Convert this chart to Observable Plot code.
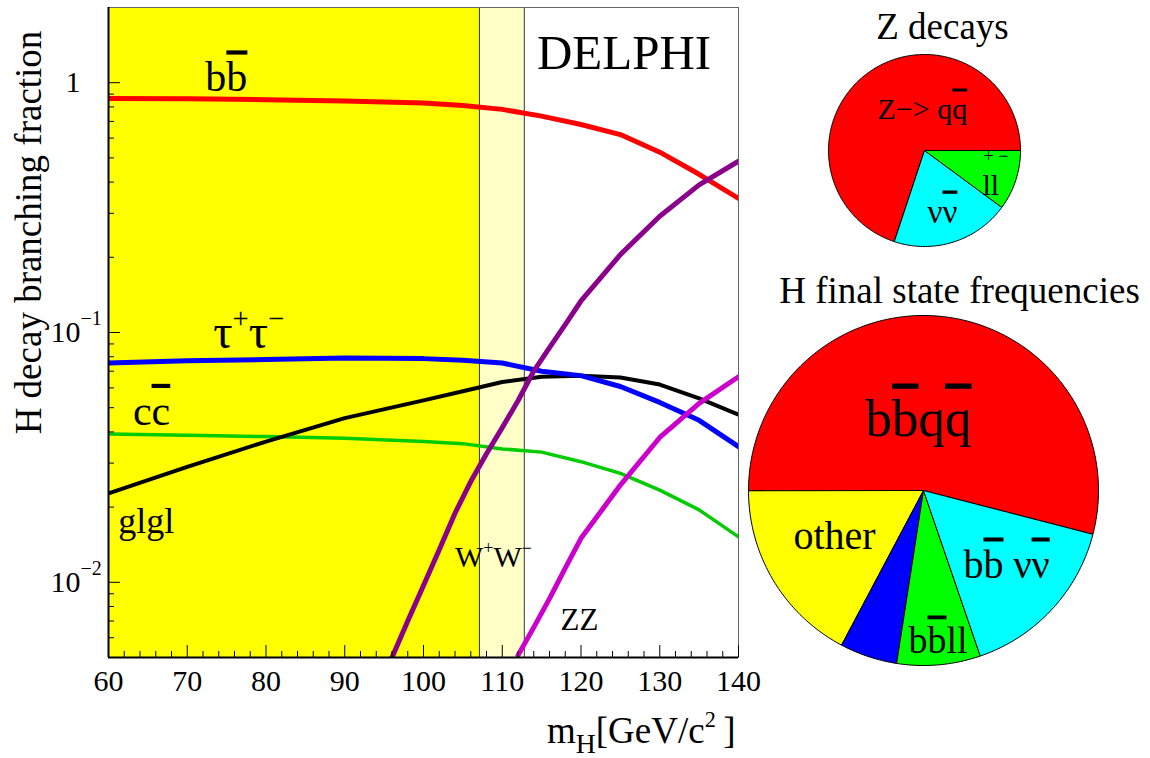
<!DOCTYPE html>
<html><head><meta charset="utf-8">
<script src="https://cdn.jsdelivr.net/npm/d3@7"></script>
<script src="https://cdn.jsdelivr.net/npm/@observablehq/plot@0.6"></script>
<style>
body{margin:0;background:#fff;overflow:hidden}
#wrap{position:relative;width:1150px;height:758px}
#pies{position:absolute;left:740px;top:0}
</style></head><body><div id="wrap"><div id="main"></div><div id="pies"></div></div>
<script>
// ---------- data: Higgs branching fractions vs m_H ----------
const massGrid = [60, 70, 80, 90, 100, 105, 110, 115, 120, 125, 130, 135, 140];
const brBB   = [0.865, 0.862, 0.855, 0.845, 0.83, 0.81, 0.782, 0.735, 0.68, 0.62, 0.527, 0.43, 0.344];
const brTauTau = [0.0755, 0.077, 0.078, 0.079, 0.0786, 0.0775, 0.0755, 0.0700, 0.0672, 0.0608, 0.0525, 0.0445, 0.0349];
const brCC   = [0.0392, 0.0388, 0.0383, 0.0377, 0.0366, 0.0359, 0.0342, 0.0332, 0.0304, 0.0273, 0.0234, 0.0195, 0.0152];
const brGG   = [0.0227, 0.029, 0.0366, 0.0454, 0.0535, 0.0582, 0.0634, 0.0665, 0.0671, 0.0661, 0.0619, 0.0545, 0.0469];
const massWW = [96, 98, 100, 102, 104, 106, 108, 110, 112, 114, 116, 118, 120, 125, 130, 135, 140];
const brWW   = [0.0050, 0.0070, 0.0097, 0.0135, 0.0189, 0.0253, 0.0327, 0.0416, 0.0533, 0.0701, 0.087, 0.1076, 0.1337, 0.205, 0.292, 0.39, 0.485];
const massZZ = [112, 114, 116, 118, 120, 125, 130, 135, 140];
const brZZ   = [0.0051, 0.0066, 0.0086, 0.0114, 0.015, 0.0245, 0.038, 0.052, 0.0665];

// excluded regions
const bandStart = [60, 107.1];
const bandEnd   = [107.1, 112.8];
const bandColor = ["#ffff00", "#ffffc8"];

// axes
const xMajor = [60, 70, 80, 90, 100, 110, 120, 130, 140];
const xMinor = [62,64,66,68,72,74,76,78,82,84,86,88,92,94,96,98,102,104,106,108,112,114,116,118,122,124,126,128,132,134,136,138];
const yMajor = [1, 0.1, 0.01];
const yMajorBase = ["1", "10", "10"];
const yMajorExp  = ["", "\u22121", "\u22122"];
const yMinor = [0.006,0.007,0.008,0.009,0.02,0.03,0.04,0.05,0.06,0.07,0.08,0.09,0.2,0.3,0.4,0.5,0.6,0.7,0.8,0.9];

// curve labels (markup: {o:x} overline, {^:x} superscript, {_:x} subscript)
const labelText = ["b{o:b}", "\u03c4{^:+}\u03c4{^:\u2212}", "c{o:c}", "glgl", "W{^:+}W{^:\u2212}", "ZZ", "DELPHI"];
const labelX    = [72.3, 73.3, 63.1, 61.25, 104.0, 117.4, 114.4];
const labelY    = [0.923, 0.0869, 0.0427, 0.01576, 0.01151, 0.00644, 1.13];
const labelSize = [42, 48, 42, 36, 30, 31, 49];

// Z decays pie
const zNames  = ["qq", "nunu", "ll"];
const zFrac   = [69.9, 20.0, 10.1];
const zColors = ["#ff0000", "#00ffff", "#00ff00"];
// H final state pie
const hNames  = ["bbqq", "other", "tautauqq", "bbll", "bbnunu"];
const hFrac   = [54.0, 17.2, 5.3, 7.7, 15.7];
const hColors = ["#ff0000", "#ffff00", "#0000ff", "#00ff00", "#00ffff"];

const pieLabelText = ["Z decays", "H final state frequencies", "Z\u2212> q{o:q}", "\u03bd{o:\u03bd}", "ll", "+ \u2212",
  "b{o:b}q{o:q}", "other", "b{o:b} \u03bd{o:\u03bd}", "b{o:b}ll"];
const pieLabelX = [202, 219, 137, 187, 242, 243, 125, 53, 223, 168];
const pieLabelY = [38, 302, 118, 222, 194, 161, 435, 548, 577, 652];
const pieLabelSize = [37, 37, 30, 33, 30, 18, 53, 40, 40, 38];
const pieLabelAnchor = ["middle", "middle", "start", "start", "start", "start", "start", "start", "start", "start"];

// ---------- build ----------
const serif = "'Liberation Serif', 'Times New Roman', serif";
const toRows = (xs, ys) => xs.map((x, i) => ({x, y: ys[i]}));
const bands = bandStart.map((s, i) => ({x1: s, x2: bandEnd[i], fill: bandColor[i]}));
const labels = labelText.map((t, i) => ({t, x: labelX[i], y: labelY[i], s: labelSize[i]}));

const W = 1150, H = 758, ml = 108, mr = 412, mt = 7, mb = 101;
const fw = W - ml - mr, fh = H - mt - mb;

const lineOpts = (stroke, w) => ({x: "x", y: "y", stroke, strokeWidth: w, strokeLinejoin: "round", clip: true});

const main = Plot.plot({
  width: W, height: H,
  marginLeft: ml, marginRight: mr, marginTop: mt, marginBottom: mb,
  style: {fontFamily: serif, fontSize: "30px", background: "white", color: "black"},
  x: {domain: [60, 140], axis: null},
  y: {type: "log", domain: [0.005, 2], axis: null},
  marks: [
    Plot.rect(bands, {x1: "x1", x2: "x2", fill: "fill"}),
    Plot.ruleX(bandEnd, {stroke: "#333", strokeWidth: 1}),
    Plot.line(toRows(massGrid, brCC), lineOpts("#00cc00", 3.5)),
    Plot.line(toRows(massGrid, brGG), lineOpts("#000000", 4)),
    Plot.line(toRows(massGrid, brTauTau), lineOpts("#0000ff", 5)),
    Plot.line(toRows(massGrid, brBB), lineOpts("#ff0000", 5)),
    Plot.line(toRows(massZZ, brZZ), lineOpts("#cc00cc", 5)),
    Plot.line(toRows(massWW, brWW), lineOpts("#8b008b", 5)),
    Plot.frame({stroke: "#666", strokeWidth: 1}),
    Plot.tickX(xMajor, {x: d => d, insetTop: fh - 12, stroke: "black"}),
    Plot.tickX(xMinor, {x: d => d, insetTop: fh - 6, stroke: "black"}),
    Plot.tickY(yMajor, {y: d => d, insetRight: fw - 12, stroke: "black"}),
    Plot.tickY(yMinor, {y: d => d, insetRight: fw - 6, stroke: "black"}),
    Plot.ruleX([60], {stroke: "black", strokeWidth: 2}),
    Plot.ruleY([0.005], {stroke: "black", strokeWidth: 2}),
    Plot.axisX(xMajor, {tickSize: 0, tickPadding: 12, tickFormat: d => String(d), label: null, fontSize: 30}),
    Plot.text(yMajor, {y: d => d, frameAnchor: "left", dx: -28, textAnchor: "end", lineAnchor: "middle",
      text: (d, i) => yMajorBase[i], fontSize: 30}),
    Plot.text(yMajor, {y: d => d, frameAnchor: "left", dx: -28, dy: -14, textAnchor: "start", lineAnchor: "middle",
      text: (d, i) => yMajorExp[i], fontSize: 20}),
    ...labels.map(l => Plot.text([l], {x: "x", y: "y", text: "t", textAnchor: "start", lineAnchor: "bottom", fontSize: l.s})),
    Plot.text(["H decay branching fraction"], {frameAnchor: "left", dx: -68, dy: -100, rotate: -90,
      textAnchor: "middle", lineAnchor: "bottom", fontSize: 37}),
    Plot.text(["m{_:H}[GeV/c{^:2}\u2009]"], {frameAnchor: "bottom-right", dx: -3, dy: 85,
      textAnchor: "end", lineAnchor: "bottom", fontSize: 37})
  ]
});
document.getElementById("main").appendChild(main);

// pies
function slicePoints(names, frac, colors, cx, cy, r, start) {
  const total = d3.sum(frac);
  const pts = [];
  let a0 = start;
  frac.forEach((f, i) => {
    const a1 = a0 + f / total * 360;
    const base = {key: names[i] + cx + cy, color: colors[i]};
    pts.push({...base, px: cx, py: cy});
    for (let a = a0; ; a += 1) {
      const aa = Math.min(a, a1), rad = aa * Math.PI / 180;
      pts.push({...base, px: cx + r * Math.cos(rad), py: cy - r * Math.sin(rad)});
      if (aa >= a1) break;
    }
    pts.push({...base, px: cx, py: cy});
    a0 = a1;
  });
  return pts;
}
const zPts = slicePoints(zNames, zFrac, zColors, 184, 150, 96, 0);
const hPts = slicePoints(hNames, hFrac, hColors, 183, 490, 175, -14.5);
const pieLabels = pieLabelText.map((t, i) => ({t, x: pieLabelX[i], y: pieLabelY[i], s: pieLabelSize[i], a: pieLabelAnchor[i]}));

const pies = Plot.plot({
  width: 410, height: 758, margin: 0,
  style: {fontFamily: serif, fontSize: "30px", background: "transparent", color: "black"},
  x: {domain: [0, 410], axis: null},
  y: {domain: [758, 0], axis: null},
  color: {type: "identity"},
  marks: [
    Plot.line(zPts, {x: "px", y: "py", z: "key", fill: "color", stroke: "black", strokeWidth: 1, strokeLinejoin: "round"}),
    Plot.line(hPts, {x: "px", y: "py", z: "key", fill: "color", stroke: "black", strokeWidth: 1, strokeLinejoin: "round"}),
    ...pieLabels.map(l => Plot.text([l], {x: "x", y: "y", text: "t", textAnchor: l.a, lineAnchor: "bottom", fontSize: l.s}))
  ]
});
document.getElementById("pies").appendChild(pies);

// rich text: overline / superscript / subscript via tspans
function richify(svg) {
  d3.select(svg).selectAll("text").each(function() {
    const s = this.textContent;
    if (!s.includes("{")) return;
    const fs = parseFloat(getComputedStyle(this).fontSize) || 30;
    const re = /\{([o^_]):([^}]*)\}|([^{]+)/g;
    const parts = [];
    let m;
    while ((m = re.exec(s))) parts.push(m[3] !== undefined ? {t: m[3], k: ""} : {t: m[2], k: m[1]});
    while (this.firstChild) this.removeChild(this.firstChild);
    let cur = 0;
    for (const p of parts) {
      const ts = document.createElementNS("http://www.w3.org/2000/svg", "tspan");
      let off = 0;
      if (p.k === "^") { off = -0.42 * fs; ts.setAttribute("font-size", 0.6 * fs); }
      if (p.k === "_") { off = 0.27 * fs; ts.setAttribute("font-size", 0.75 * fs); }
      if (p.k === "o") { ts.style.textDecoration = "overline"; ts.style.textDecorationThickness = "2px"; }
      if (off - cur !== 0) ts.setAttribute("dy", off - cur);
      cur = off;
      ts.textContent = p.t;
      this.appendChild(ts);
    }
  });
}
richify(main);
richify(pies);
</script></body></html>
